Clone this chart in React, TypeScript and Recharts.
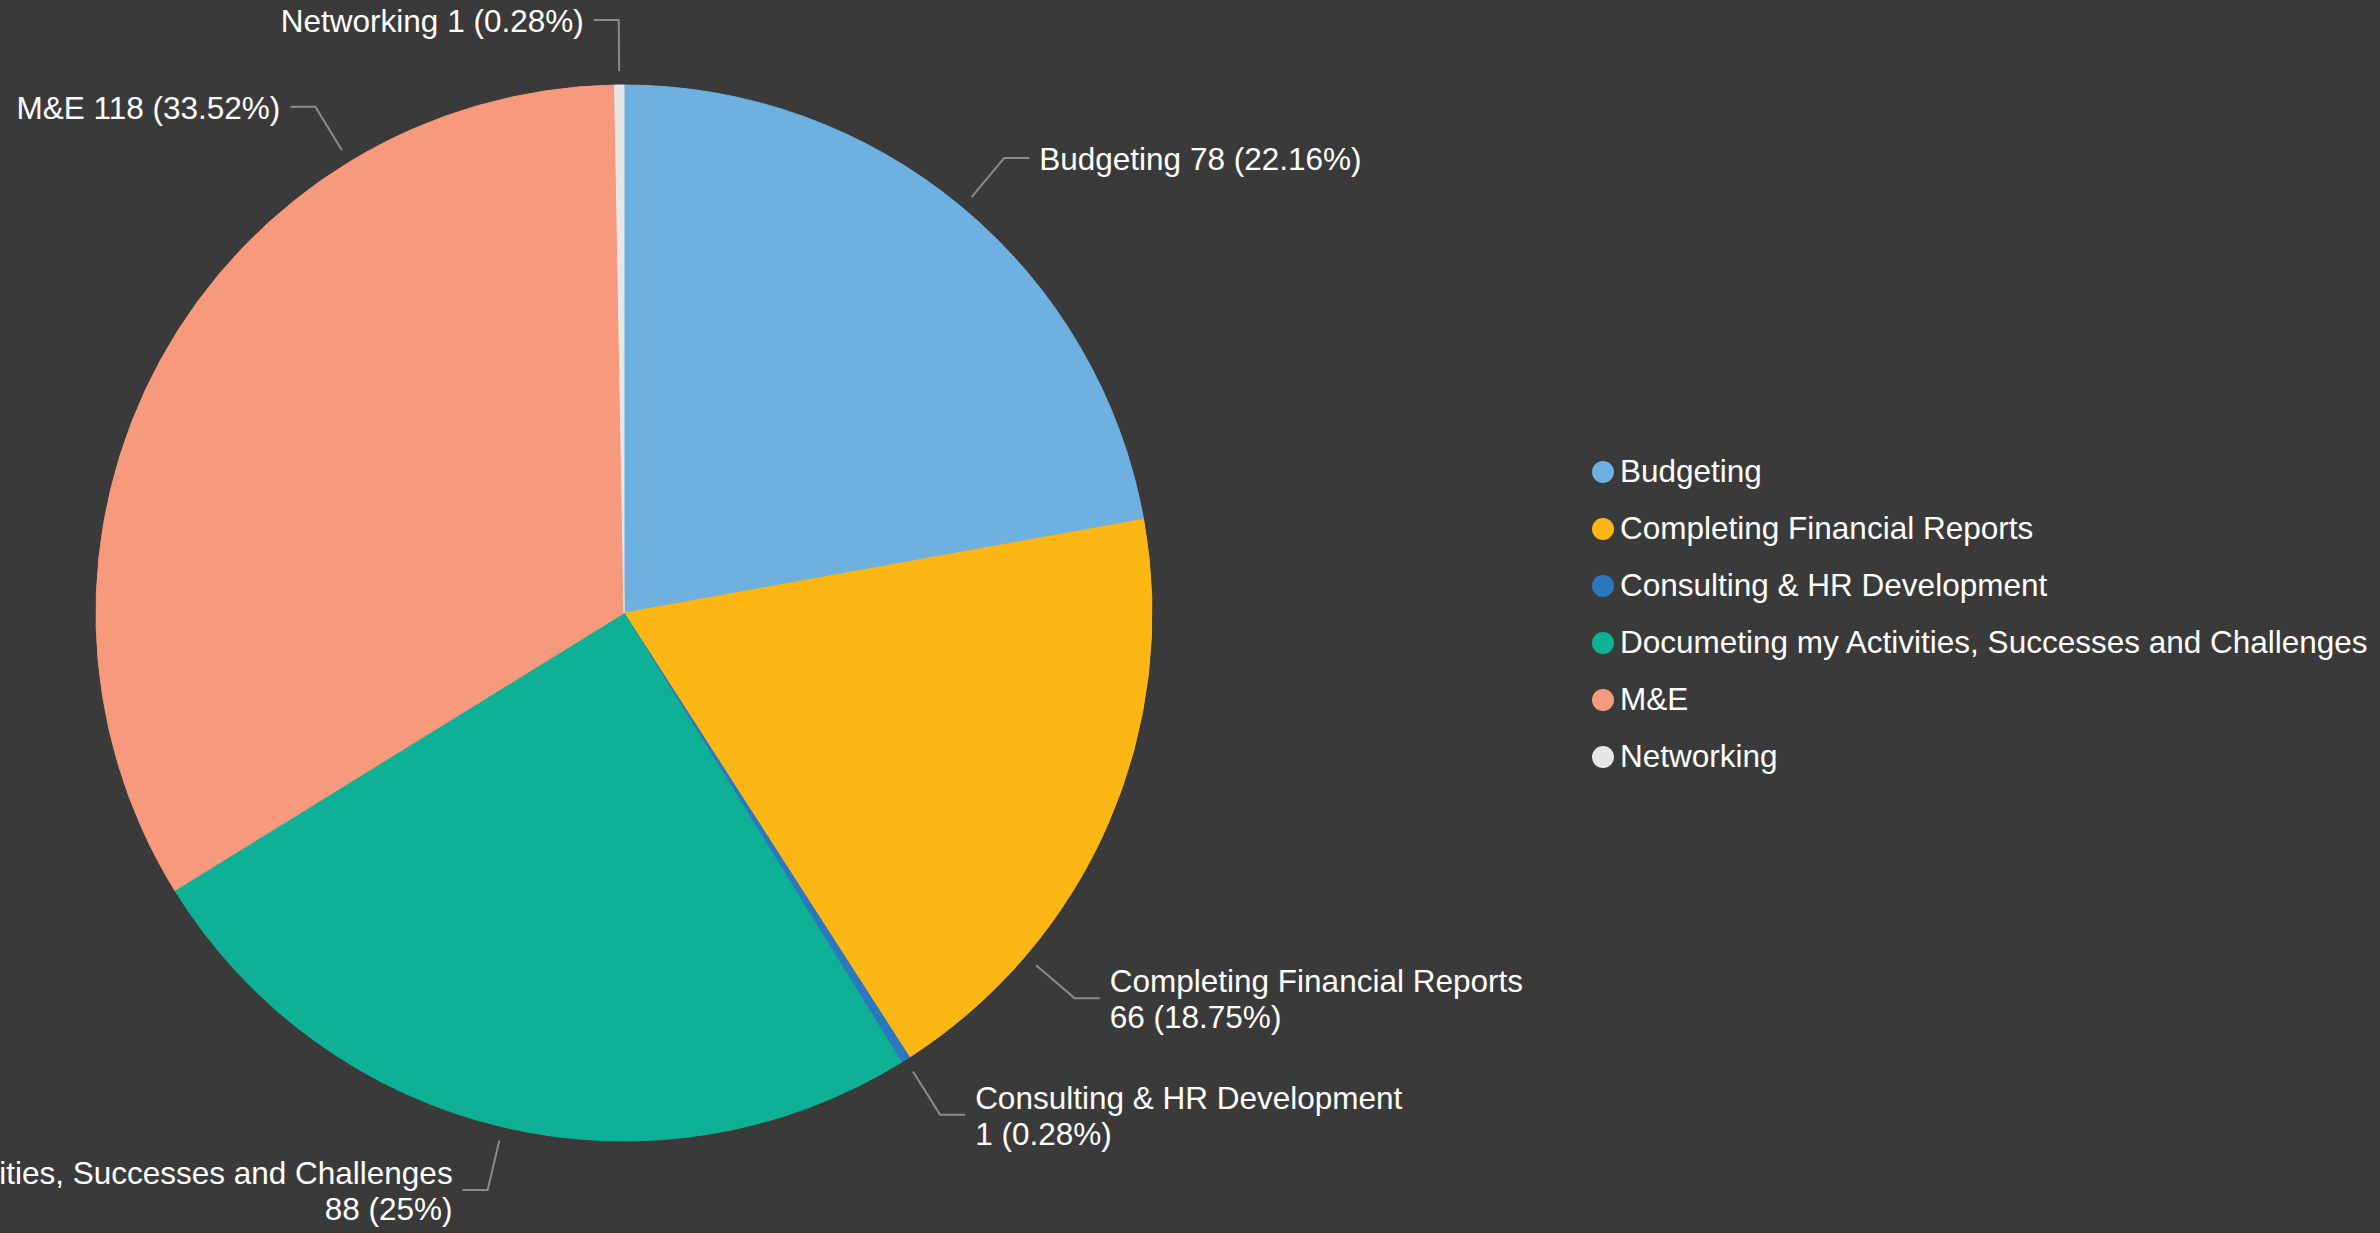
import { PieChart, Pie, Cell, Legend } from 'recharts';

const categories = [
  'Budgeting',
  'Completing Financial Reports',
  'Consulting & HR Development',
  'Documeting my Activities, Successes and Challenges',
  'M&E',
  'Networking',
];
const counts = [78, 66, 1, 88, 118, 1];
const colors = ['#6eb0e0', '#fdb714', '#2a78c0', '#0fb196', '#f7997d', '#e6e6e6'];

// some labels are pushed round the pie (clockwise, degrees) so they don't crowd
const labelShift = [0, 17, 0, 0, 30, 0];

const data = categories.map((name, i) => ({ name, value: counts[i] }));
const total = counts.reduce((a, b) => a + b, 0);

const FONT = '"Liberation Sans", Arial, sans-serif';
const FS = 31.5;
const RAD = Math.PI / 180;

function renderLabel(props: any) {
  const { cx, cy, midAngle, outerRadius, index, name, value } = props;
  const a = (midAngle - labelShift[index]) * RAD;
  const cos = Math.cos(a);
  const sin = -Math.sin(a);
  const x1 = cx + (outerRadius + 14) * cos;
  const y1 = cy + (outerRadius + 14) * sin;
  const x2 = cx + (outerRadius + 65) * cos;
  const y2 = cy + (outerRadius + 65) * sin;
  const right = cos >= 0;
  const x3 = x2 + (right ? 25 : -25);
  const tx = x3 + (right ? 10 : -10);
  const pct = parseFloat(((value / total) * 100).toFixed(2));
  const tail = `${value} (${pct}%)`;
  const wrap = name.length > 15;
  return (
    <g>
      <polyline
        points={`${x1},${y1} ${x2},${y2} ${x3},${y2}`}
        fill="none"
        stroke="#8c8c8c"
        strokeWidth={2}
      />
      {wrap ? (
        <text x={tx} y={y2} fill="#fff" fontSize={FS} fontFamily={FONT} textAnchor={right ? 'start' : 'end'}>
          <tspan x={tx} dy={-6}>{name}</tspan>
          <tspan x={tx} dy={36}>{tail}</tspan>
        </text>
      ) : (
        <text x={tx} y={y2 + 12} fill="#fff" fontSize={FS} fontFamily={FONT} textAnchor={right ? 'start' : 'end'}>
          {`${name} ${tail}`}
        </text>
      )}
    </g>
  );
}

function LegendList() {
  return (
    <div style={{ fontFamily: FONT, fontSize: FS, color: '#fff' }}>
      {categories.map((c, i) => (
        <div key={c} style={{ display: 'flex', alignItems: 'center', height: 57, whiteSpace: 'nowrap' }}>
          <span
            style={{
              display: 'inline-block',
              width: 22,
              height: 22,
              borderRadius: '50%',
              background: colors[i],
              marginRight: 6,
            }}
          />
          {c}
        </div>
      ))}
    </div>
  );
}

export default function App() {
  return (
    <div style={{ position: 'absolute', left: 0, top: 0, width: 2380, height: 1233, background: '#3a3a3a', overflow: 'hidden' }}>
      <PieChart width={2380} height={1233} margin={{ top: 0, right: 0, bottom: 0, left: 0 }}>
        <Pie
          data={data}
          dataKey="value"
          nameKey="name"
          cx={624}
          cy={613}
          outerRadius={528}
          startAngle={90}
          endAngle={-270}
          label={renderLabel}
          labelLine={false}
          isAnimationActive={false}
        >
          {data.map((d, i) => (
            <Cell key={d.name} fill={colors[i]} stroke={colors[i]} strokeWidth={1} />
          ))}
        </Pie>
        <Legend
          layout="vertical"
          align="right"
          verticalAlign="middle"
          content={() => <LegendList />}
          wrapperStyle={{ left: 1592, top: 443, right: 'auto', width: 790 }}
        />
      </PieChart>
    </div>
  );
}
